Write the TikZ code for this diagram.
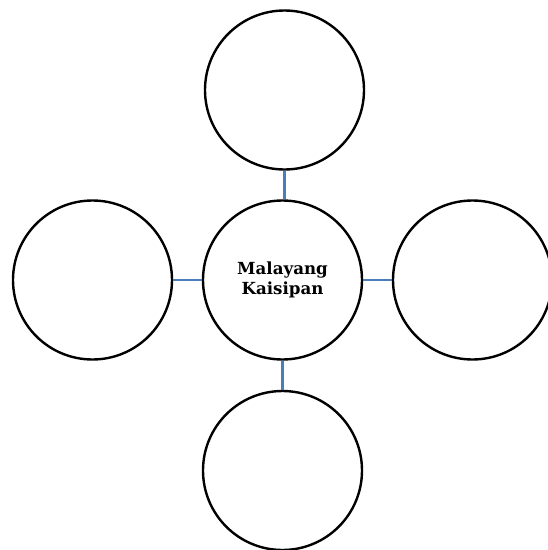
\documentclass[tikz,border=0pt]{standalone}
\usepackage{fontspec}
\setmainfont{DejaVu Serif}
\definecolor{linkblue}{RGB}{74,126,187}
\tikzset{
  bubble/.style={circle,draw=black,line width=1.8pt,minimum size=119.25pt,inner sep=0pt,fill=white,align=center,
    font=\fontsize{12.5}{15}\selectfont\bfseries},
  link/.style={draw=linkblue,line width=1.8pt}
}
\begin{document}
\begin{tikzpicture}[x=0.75pt,y=-0.75pt]
\useasboundingbox (0,0) rectangle (547,550);
\fill[white] (0,0) rectangle (547,550);
\node[bubble] (top) at (284.5,90) {};
\node[bubble] (mid) at (282.5,280) {Malayang\\Kaisipan};
\node[bubble] (left) at (92.5,280) {};
\node[bubble] (right) at (472.5,280) {};
\node[bubble] (bot) at (282.5,470.5) {};
\draw[link] (top.south) -- (top.south |- mid.north);
\draw[link] (left.east) -- (mid.west);
\draw[link] (mid.east) -- (right.west);
\draw[link] (mid.south) -- (bot.north);
\end{tikzpicture}
\end{document}
